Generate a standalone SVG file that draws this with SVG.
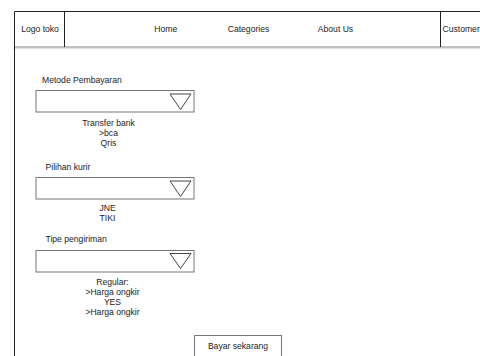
<svg xmlns="http://www.w3.org/2000/svg" width="480" height="356" viewBox="0 0 480 356">
<style>
text{font-family:"Liberation Sans",Arial,sans-serif;font-size:8.6px;fill:#222}
.c{text-anchor:middle}
.frame{stroke:#222;stroke-width:1;fill:none}
.box{fill:#fff;stroke:#777;stroke-width:1}
.tri{fill:#fff;stroke:#444;stroke-width:1}
</style>
<rect width="480" height="356" fill="#fff"/>
<g id="header">
<line class="frame" x1="14.5" y1="11.5" x2="480" y2="11.5"/>
<line class="frame" x1="14.5" y1="11.5" x2="14.5" y2="356"/>
<line x1="15" y1="47" x2="480" y2="47" stroke="#888" stroke-width="1"/>
<line x1="15" y1="48" x2="480" y2="48" stroke="#bbb" stroke-width="1"/>
<line class="frame" x1="64.5" y1="11.5" x2="64.5" y2="47"/>
<line class="frame" x1="440.5" y1="11.5" x2="440.5" y2="47"/>
<text class="c" x="40" y="31.5">Logo toko</text>
<text class="c" x="165.8" y="31.5">Home</text>
<text class="c" x="248.5" y="31.5">Categories</text>
<text class="c" x="335.5" y="31.5">About Us</text>
<text x="442.5" y="31.5">Customer</text>
</g>
<g id="metode">
<text x="42" y="82.5">Metode Pembayaran</text>
<rect class="box" x="36" y="90.5" width="158" height="21.5"/>
<polygon class="tri" points="170,94 191,94 180.5,109.5"/>
<text class="c" x="108.5" y="125.5">Transfer bank</text>
<text class="c" x="108.5" y="135.5">&gt;bca</text>
<text class="c" x="108.5" y="145.5">Qris</text>
</g>
<g id="kurir">
<text x="45.5" y="170">Pilihan kurir</text>
<rect class="box" x="36" y="177.5" width="158" height="21.5"/>
<polygon class="tri" points="170,181 191,181 180.5,196.5"/>
<text class="c" x="107.5" y="210.5">JNE</text>
<text class="c" x="107.5" y="220.5">TIKI</text>
</g>
<g id="tipe">
<text x="45.5" y="242">Tipe pengiriman</text>
<rect class="box" x="36" y="250.5" width="158" height="21.5"/>
<polygon class="tri" points="170,253.5 191,253.5 180.5,268.5"/>
<text class="c" x="112.5" y="285">Regular:</text>
<text class="c" x="112.5" y="295">&gt;Harga ongkir</text>
<text class="c" x="112.5" y="305">YES</text>
<text class="c" x="112.5" y="315">&gt;Harga ongkir</text>
</g>
<g id="bayar">
<rect class="box" x="194.5" y="335.5" width="87" height="30"/>
<text class="c" x="238" y="349">Bayar sekarang</text>
</g>
<g id="connectors"/>
</svg>
